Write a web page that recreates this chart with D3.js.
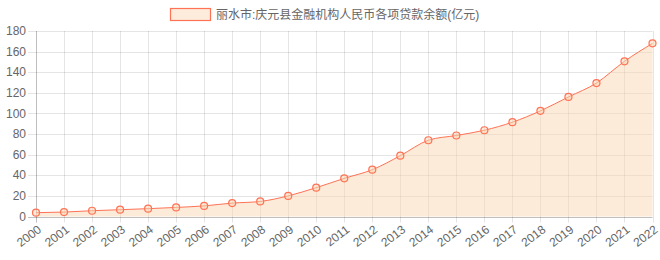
<!DOCTYPE html>
<html><head><meta charset="utf-8">
<script src="https://cdn.jsdelivr.net/npm/d3@7"></script>
<style>body{margin:0;background:#fff}svg{display:block}text{font-family:"Helvetica Neue",Helvetica,Arial,"Liberation Sans","Noto Sans CJK SC",sans-serif}</style>
</head><body><svg id="c" width="660" height="260"></svg>
<script>
(function(){
const years = ["2000","2001","2002","2003","2004","2005","2006","2007","2008","2009","2010","2011","2012","2013","2014","2015","2016","2017","2018","2019","2020","2021","2022"];
const values = [3.7,4.3,5.6,6.6,7.6,8.8,10.3,13,14.6,20,28,37,45.4,59,74,78.6,83.7,91.5,102.5,116,129.5,150.6,168];
const yTicks = [0,20,40,60,80,100,120,140,160,180];
const seriesName = "丽水市:庆元县金融机构人民币各项贷款余额(亿元)";

const svg = d3.select("#c");
const pl = 36, pr = 652.5, pt = 31, pb = 216.5;
const x = d3.scalePoint().domain(years).range([pl, pr]);
const y = d3.scaleLinear().domain([0,180]).range([pb, pt]);
const lineColor = "#ff7256", fillColor = "rgba(250,215,180,0.5)", textColor = "#666";

const gy = svg.append("g");
yTicks.forEach(t => {
  gy.append("line").attr("x1", pl - 8).attr("x2", pr).attr("y1", Math.round(y(t))+0.5).attr("y2", Math.round(y(t))+0.5)
    .attr("stroke", t===0 ? "rgba(0,0,0,0.25)" : "rgba(0,0,0,0.1)").attr("stroke-width", 1);
  gy.append("text").attr("x", pl - 10).attr("y", y(t)).attr("dy", "0.35em").attr("text-anchor","end")
    .attr("font-size", 12).attr("fill", textColor).text(t);
});
const gx = svg.append("g");
years.forEach((yr,i) => {
  const xx = Math.round(x(yr))+0.5;
  gx.append("line").attr("x1", xx).attr("x2", xx).attr("y1", pt).attr("y2", pb + 6)
    .attr("stroke", i===0 ? "rgba(0,0,0,0.25)" : "rgba(0,0,0,0.1)");
  gx.append("text").attr("transform", `translate(${x(yr)+1},${pb+8}) rotate(-37)`)
    .attr("text-anchor","end").attr("dy","0.7em").attr("font-size", 12).attr("fill", textColor).text(yr);
});

const area = d3.area().x((d,i)=>x(years[i])).y0(pb).y1(d=>y(d)).curve(d3.curveMonotoneX);
const line = d3.line().x((d,i)=>x(years[i])).y(d=>y(d)).curve(d3.curveMonotoneX);
svg.append("path").datum(values).attr("d", area).attr("fill", fillColor);
svg.append("path").datum(values).attr("d", line).attr("fill","none").attr("stroke", lineColor).attr("stroke-width", 1);
svg.append("g").selectAll("circle").data(values).join("circle")
  .attr("cx",(d,i)=>x(years[i])).attr("cy", d=>y(d)).attr("r", 3.5)
  .attr("fill","rgba(250,215,180,0.5)").attr("stroke", lineColor).attr("stroke-width", 1.2);

const lg = svg.append("g");
lg.append("rect").attr("x", 170.5).attr("y", 8.5).attr("width", 40).attr("height", 12)
  .attr("fill", "rgba(253,235,220,1)").attr("stroke", lineColor).attr("stroke-width", 1.2);
lg.append("text").attr("x", 216).attr("y", 15).attr("dy","0.35em").attr("font-size", 12).attr("fill", textColor).text(seriesName);
})();
</script></body></html>
